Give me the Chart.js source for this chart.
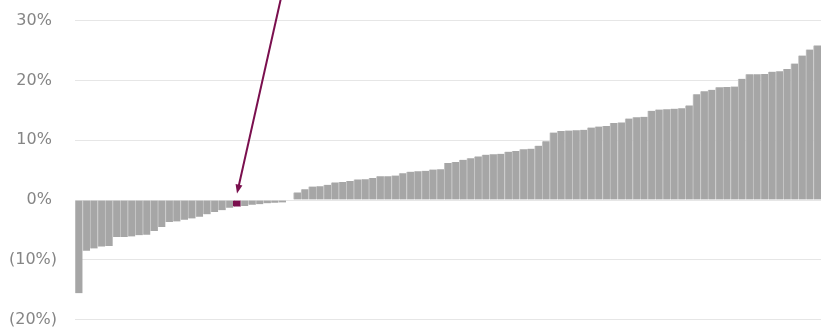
<!DOCTYPE html>
<html>
<head>
<meta charset="utf-8">
<script src="https://cdn.jsdelivr.net/npm/chart.js@4.4.1/dist/chart.umd.min.js"></script>
<style>
  html, body { margin: 0; padding: 0; background: #fff; }
  #wrap { width: 821px; height: 329px; position: relative; }
</style>
</head>
<body>
<div id="wrap"><canvas id="returnsChart"></canvas></div>
<script>
// sorted returns, one bar per fund (%)
const returns = [
  -15.6, -8.5, -8.1, -7.8, -7.7, -6.2, -6.2, -6.1, -5.9, -5.8,
  -5.2, -4.5, -3.7, -3.6, -3.3, -3.1, -2.8, -2.4, -2.0, -1.7,
  -1.3, -1.1, -1.0, -0.8, -0.7, -0.55, -0.45, -0.4, 0, 1.28,
  1.8, 2.25, 2.3, 2.55, 2.95, 3.0, 3.2, 3.45, 3.5, 3.7,
  4.0, 4.0, 4.1, 4.5, 4.75, 4.8, 4.9, 5.1, 5.15, 6.2,
  6.35, 6.75, 7.0, 7.3, 7.6, 7.65, 7.75, 8.1, 8.2, 8.5,
  8.6, 9.1, 9.85, 11.3, 11.55, 11.65, 11.7, 11.75, 12.15, 12.3,
  12.4, 12.9, 13.0, 13.65, 13.85, 13.95, 14.95, 15.15, 15.2, 15.3,
  15.35, 15.85, 17.7, 18.2, 18.45, 18.9, 18.95, 19.0, 20.3, 21.05,
  21.05, 21.1, 21.5, 21.55, 21.95, 22.85, 24.2, 25.2, 25.9
];
const labels = returns.map((v, i) => 'F' + (i + 1));
const highlightIndex = 21;
const yTicks = [-20, -10, 0, 10, 20, 30];

const barGrey = '#a6a6a6';
const barEdge = '#c6c6c6';
const plum = '#7a0f4e';

// arrow pointing down at the highlighted bar
const arrowPlugin = {
  id: 'arrow',
  afterDatasetsDraw(chart) {
    const bar = chart.getDatasetMeta(0).data[highlightIndex];
    if (!bar) return;
    const ctx = chart.ctx;
    const tipX = bar.x, tipY = bar.base - 7;
    const startX = tipX + 44, startY = -2;
    const ang = Math.atan2(tipY - startY, tipX - startX);
    const len = 9, half = 3.5;
    ctx.save();
    ctx.strokeStyle = plum;
    ctx.fillStyle = plum;
    ctx.lineWidth = 2;
    ctx.beginPath();
    ctx.moveTo(startX, startY);
    ctx.lineTo(tipX - Math.cos(ang) * (len - 2), tipY - Math.sin(ang) * (len - 2));
    ctx.stroke();
    ctx.beginPath();
    ctx.moveTo(tipX, tipY);
    ctx.lineTo(tipX - Math.cos(ang) * len - Math.sin(ang) * half, tipY - Math.sin(ang) * len + Math.cos(ang) * half);
    ctx.lineTo(tipX - Math.cos(ang) * len + Math.sin(ang) * half, tipY - Math.sin(ang) * len - Math.cos(ang) * half);
    ctx.closePath();
    ctx.fill();
    ctx.restore();
  }
};

new Chart(document.getElementById('returnsChart').getContext('2d'), {
  type: 'bar',
  data: {
    labels: labels,
    datasets: [{
      data: returns,
      backgroundColor: returns.map((v, i) => i === highlightIndex ? plum : barGrey),
      borderColor: returns.map((v, i) => i === highlightIndex ? plum : barEdge),
      borderWidth: { left: 1, right: 0, top: 0, bottom: 0 },
      borderSkipped: false,
      categoryPercentage: 1,
      barPercentage: 1
    }]
  },
  options: {
    responsive: true,
    maintainAspectRatio: false,
    animation: false,
    layout: { padding: 0 },
    plugins: { legend: { display: false }, tooltip: { enabled: false } },
    scales: {
      x: { display: false, offset: true },
      y: {
        min: -21.6,
        max: 33.5,
        afterBuildTicks: scale => { scale.ticks = yTicks.map(v => ({ value: v })); },
        afterFit: scale => {
          // plot runs edge to edge vertically, axis column is 75px wide
          scale.width = 75;
          scale.paddingTop = 0;
          scale.paddingBottom = 0;
        },
        border: { display: false },
        grid: { color: '#e6e6e6', lineWidth: 1, drawTicks: false },
        ticks: {
          padding: 18,
          color: '#858585',
          font: { family: 'DejaVu Sans', size: 16 },
          callback: v => v < 0 ? '(' + Math.abs(v) + '%)' : v + '% '
        }
      }
    }
  },
  plugins: [arrowPlugin]
});
</script>
</body>
</html>
